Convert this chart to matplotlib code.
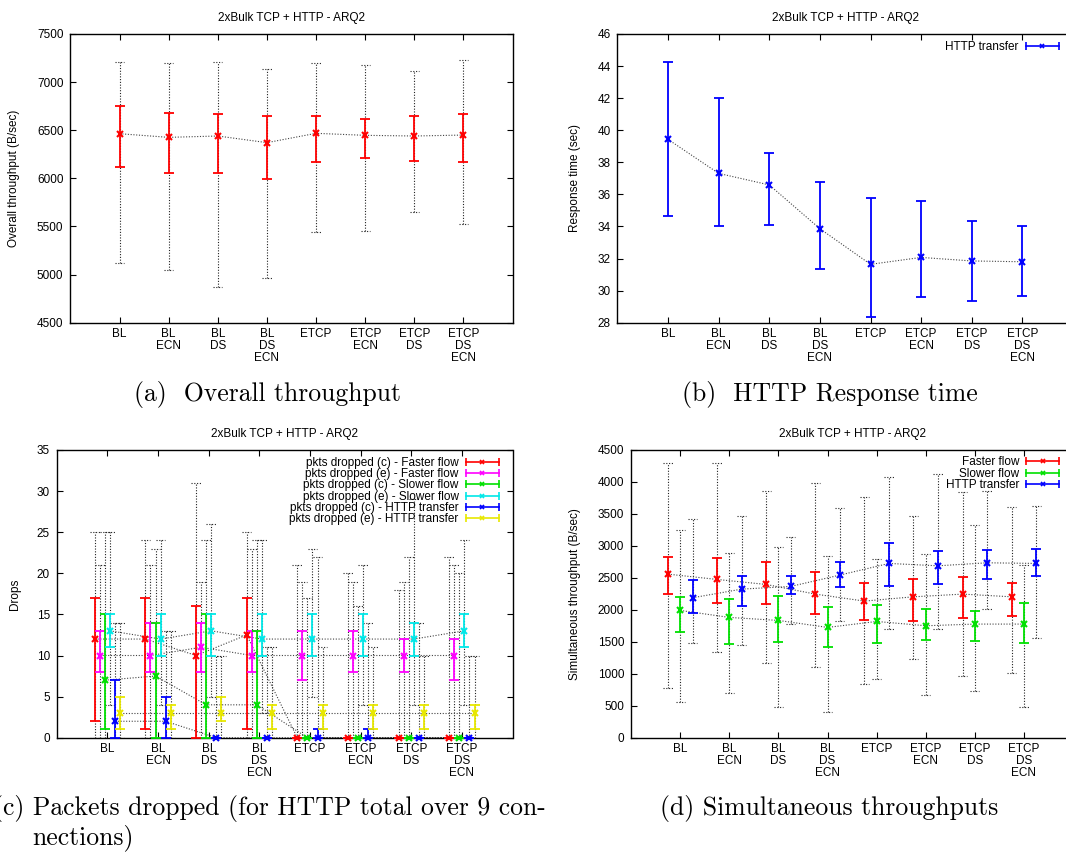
import numpy as np
import matplotlib.pyplot as plt
from matplotlib.lines import Line2D
from matplotlib.legend_handler import HandlerBase

plt.rcParams['font.family'] = ['Liberation Sans', 'DejaVu Sans']
plt.rcParams['font.size'] = 8.5

# Categories (x axis of every panel)
cats = ['BL', 'BL\nECN', 'BL\nDS', 'BL\nDS\nECN',
        'ETCP', 'ETCP\nECN', 'ETCP\nDS', 'ETCP\nDS\nECN']
title = '2xBulk TCP + HTTP - ARQ2'

# (a) Overall throughput (B/sec)
thr_mean = [6464, 6426, 6440, 6371, 6468, 6447, 6440, 6450]
thr_lo = [6118, 6052, 6052, 5990, 6166, 6211, 6180, 6166]
thr_hi = [6748, 6682, 6672, 6648, 6651, 6620, 6648, 6665]
thr_min = [5117, 5044, 4867, 4964, 5439, 5449, 5647, 5522]
thr_max = [7205, 7199, 7212, 7140, 7202, 7181, 7119, 7233]

# (b) HTTP response time (sec)
rt_mean = [39.43, 37.31, 36.59, 33.86, 31.64, 32.07, 31.85, 31.80]
rt_lo = [34.63, 34.0, 34.07, 31.33, 28.37, 29.58, 29.33, 29.64]
rt_hi = [44.28, 42.0, 38.6, 36.77, 35.75, 35.61, 34.36, 34.0]

# (c) Packets dropped
cf_mean = [12, 12, 10, 12.5, 0, 0, 0, 0]
cf_lo = [2, 1, 0, 1, 0, 0, 0, 0]
cf_hi = [17, 17, 16, 17, 0, 0, 0, 0]
cf_min = [0, 0, 0, 0, 0, 0, 0, 0]
cf_max = [25, 24, 31, 25, 21, 20, 18, 22]

ef_mean = [10, 10, 11, 10, 10, 10, 10, 10]
ef_lo = [8, 8, 8, 8, 7, 8, 8, 7]
ef_hi = [13, 14, 14, 13, 13, 13, 12, 12]
ef_min = [0, 0, 0, 0, 0, 0, 0, 0]
ef_max = [21, 21, 19, 23, 19, 19, 19, 21]

cs_mean = [7, 7.5, 4, 4, 0, 0, 0, 0]
cs_lo = [1, 0, 0, 0, 0, 0, 0, 0]
cs_hi = [15, 14, 15, 13, 0, 0, 0, 0]
cs_min = [0, 0, 0, 0, 0, 0, 0, 0]
cs_max = [25, 23, 24, 24, 17, 16, 22, 20]

es_mean = [13, 12, 13, 12, 12, 12, 12, 13]
es_lo = [11, 10, 10, 10, 10, 10, 10, 11]
es_hi = [15, 15, 15, 15, 15, 15, 14, 15]
es_min = [4, 4, 5, 3, 5, 4, 4, 4]
es_max = [25, 24, 26, 24, 23, 21, 29, 24]

ch_mean = [2, 2, 0, 0, 0, 0, 0, 0]
ch_lo = [0, 0, 0, 0, 0, 0, 0, 0]
ch_hi = [7, 5, 0, 0, 1, 1, 0, 0]
ch_min = [0, 0, 0, 0, 0, 0, 0, 0]
ch_max = [14, 13, 10, 11, 22, 14, 14, 10]

eh_mean = [3, 3, 3, 3, 3, 3, 3, 3]
eh_lo = [1, 1, 2, 1, 1, 1, 1, 1]
eh_hi = [5, 4, 5, 4, 4, 4, 4, 4]
eh_min = [0, 0, 0, 0, 0, 0, 0, 0]
eh_max = [14, 13, 10, 11, 11, 11, 10, 10]

# (d) Simultaneous throughputs (B/sec)
fast_mean = [2554, 2471, 2393, 2242, 2133, 2200, 2242, 2200]
fast_lo = [2237, 2102, 2091, 1925, 1836, 1826, 1862, 1894]
fast_hi = [2814, 2804, 2736, 2580, 2419, 2481, 2507, 2409]
fast_min = [770, 1332, 1160, 1108, 832, 1222, 962, 1004]
fast_max = [4297, 4297, 3855, 3974, 3756, 3454, 3829, 3605]

slow_mean = [1987, 1878, 1831, 1722, 1815, 1748, 1774, 1774]
slow_lo = [1644, 1457, 1493, 1415, 1483, 1519, 1503, 1477]
slow_hi = [2190, 2164, 2211, 2044, 2076, 2008, 1982, 2096]
slow_min = [562, 702, 473, 406, 910, 661, 723, 484]
slow_max = [3246, 2887, 2981, 2835, 2783, 2861, 3324, 2695]

http_mean = [2185, 2320, 2362, 2539, 2721, 2684, 2731, 2721]
http_lo = [1951, 2050, 2237, 2351, 2367, 2393, 2471, 2528]
http_hi = [2461, 2528, 2528, 2747, 3038, 2918, 2929, 2944]
http_min = [1483, 1451, 1774, 1815, 1696, 1691, 2003, 1555]
http_max = [3418, 3465, 3137, 3589, 4063, 4120, 3855, 3621]

RED, GREEN, BLUE = '#ff0000', '#00e000', '#0000ff'
MAGENTA, CYAN, YELLOW = '#ff00ff', '#00e8e8', '#e8e800'
DOT = (0, (1, 1.5))
CW = 0.095  # half width of the dotted caps (x units)


class GnuErr(HandlerBase):
    # gnuplot style key sample: horizontal bar, end ticks, point in middle
    def create_artists(self, legend, orig, xd, yd, w, h, fontsize, trans):
        y = h / 2 - yd
        c = orig.get_color()
        return [Line2D([-xd, -xd + w], [y, y], color=c, lw=1.2, transform=trans),
                Line2D([-xd, -xd + w], [y, y], ls='none', marker='|', ms=6,
                       mew=1.2, color=c, transform=trans),
                Line2D([-xd + w / 2], [y], ls='none', marker='x', ms=3.5,
                       mew=1.2, color=c, transform=trans)]


def series(ax, x, mean, lo, hi, color, vmin=None, vmax=None):
    mean, lo, hi = np.array(mean, float), np.array(lo, float), np.array(hi, float)
    ax.plot(x, mean, color='#444444', lw=0.8, ls=DOT, zorder=2)
    if vmin is not None:
        ax.vlines(x, vmin, vmax, colors='#222222', lw=0.8, linestyles=DOT, zorder=2)
        ax.hlines(vmin, x - CW, x + CW, colors='#222222', lw=0.8, linestyles=DOT, zorder=2)
        ax.hlines(vmax, x - CW, x + CW, colors='#222222', lw=0.8, linestyles=DOT, zorder=2)
    ax.errorbar(x, mean, yerr=[mean - lo, hi - mean], fmt='none', ecolor=color,
                elinewidth=1.3, capsize=3.4, capthick=1.3, zorder=3)
    ax.plot(x, mean, ls='none', marker='x', ms=4, mew=1.5, color=color,
            zorder=4, clip_on=False)
    return Line2D([], [], color=color)


def setup(ax, ylim, step, ylabel, labx):
    ax.set_xlim(0, 9)
    ax.set_ylim(*ylim)
    ax.set_yticks(np.arange(ylim[0], ylim[1] + step / 2, step))
    ax.set_xticks(np.arange(1, 9), cats)
    for lbl in ax.get_xticklabels():
        lbl.set_linespacing(1.0)
    ax.tick_params(direction='in', length=4, width=0.8, top=True, right=True,
                   labelsize=8.5)
    ax.tick_params(axis='y', pad=5)
    ax.tick_params(axis='x', pad=4)
    for s in ax.spines.values():
        s.set_linewidth(1.0)
    ax.set_title(title, fontsize=8.5, pad=9)
    ax.set_ylabel(ylabel, fontsize=8.5)
    ax.yaxis.set_label_coords(labx, 0.5)


def key(ax, handles, labels, anchor):
    ax.legend(handles, labels, loc='upper right', bbox_to_anchor=anchor,
              frameon=False, markerfirst=False, handler_map={Line2D: GnuErr()},
              handlelength=2.8, handletextpad=0.6, labelspacing=-0.06,
              borderaxespad=0, borderpad=0, fontsize=8.5)


fig = plt.figure(figsize=(10.66, 8.52), dpi=100)
W, H = 1066.0, 852.0


def axes_px(l, t, r, b):
    return fig.add_axes([l / W, 1 - b / H, (r - l) / W, (b - t) / H])


x = np.arange(1, 9)

# (a)
ax = axes_px(70.4, 34, 512.6, 322.7)
series(ax, x, thr_mean, thr_lo, thr_hi, RED, thr_min, thr_max)
setup(ax, (4500, 7500), 500, 'Overall throughput (B/sec)', -0.115)

# (b)
ax = axes_px(617.4, 34, 1073, 322.7)
h = series(ax, x, rt_mean, rt_lo, rt_hi, BLUE)
setup(ax, (28, 46), 2, 'Response time (sec)', -0.08)
key(ax, [h], ['HTTP transfer'], (0.969, 0.977))

# (c)
ax = axes_px(56.8, 450, 512.5, 737.7)
hs = [series(ax, x - 0.25, cf_mean, cf_lo, cf_hi, RED, cf_min, cf_max),
      series(ax, x - 0.15, ef_mean, ef_lo, ef_hi, MAGENTA, ef_min, ef_max),
      series(ax, x - 0.05, cs_mean, cs_lo, cs_hi, GREEN, cs_min, cs_max),
      series(ax, x + 0.05, es_mean, es_lo, es_hi, CYAN, es_min, es_max),
      series(ax, x + 0.15, ch_mean, ch_lo, ch_hi, BLUE, ch_min, ch_max),
      series(ax, x + 0.25, eh_mean, eh_lo, eh_hi, YELLOW, eh_min, eh_max)]
setup(ax, (0, 35), 5, 'Drops', -0.079)
key(ax, hs, ['pkts dropped (c) - Faster flow', 'pkts dropped (e) - Faster flow',
             'pkts dropped (c) - Slower flow', 'pkts dropped (e) - Slower flow',
             'pkts dropped (c) - HTTP transfer', 'pkts dropped (e) - HTTP transfer'],
    (0.970, 0.976))

# (d)
ax = axes_px(631.2, 449.5, 1073, 737.7)
hs = [series(ax, x - 0.25, fast_mean, fast_lo, fast_hi, RED, fast_min, fast_max),
      series(ax, x, slow_mean, slow_lo, slow_hi, GREEN, slow_min, slow_max),
      series(ax, x + 0.25, http_mean, http_lo, http_hi, BLUE, http_min, http_max)]
setup(ax, (0, 4500), 500, 'Simultaneous throughput (B/sec)', -0.114)
key(ax, hs, ['Faster flow', 'Slower flow', 'HTTP transfer'], (0.969, 0.976))

# sub-figure captions
cap = dict(family='cmr10', fontsize=18.5, va='center')
fig.text(268 / W, 1 - 395 / H, '(a)  Overall throughput', ha='center', **cap)
fig.text(829.6 / W, 1 - 395 / H, '(b)  HTTP Response time', ha='center', **cap)
fig.text(-7 / W, 1 - 808 / H, '(c) Packets dropped (for HTTP total over 9 con-',
         ha='left', **cap)
fig.text(32 / W, 1 - 838 / H, 'nections)', ha='left', **cap)
fig.text(829.6 / W, 1 - 808 / H, '(d) Simultaneous throughputs', ha='center', **cap)

fig.savefig('out.png', dpi=100)
